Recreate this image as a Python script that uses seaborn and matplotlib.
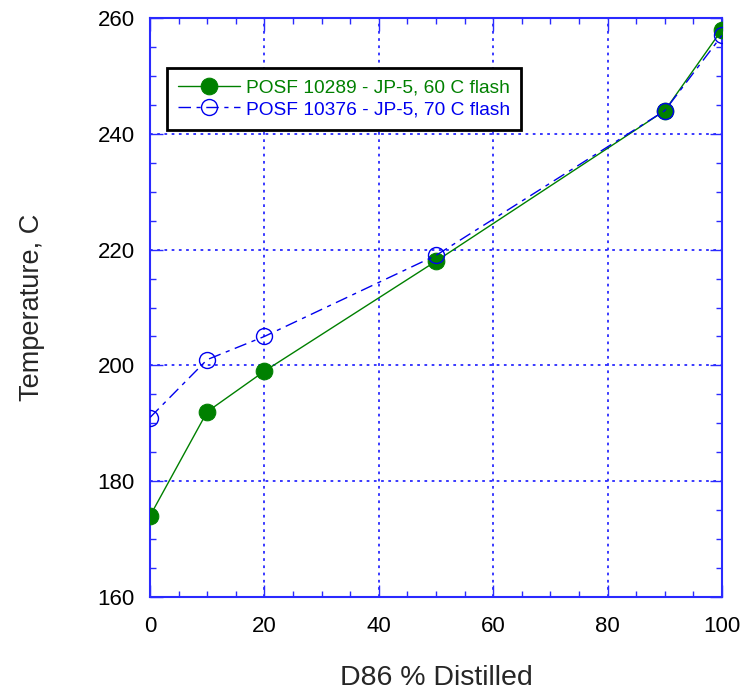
import matplotlib
matplotlib.use("Agg")
import matplotlib.pyplot as plt
import seaborn as sns
import pandas as pd
from matplotlib.ticker import MultipleLocator

sns.set_style("white")
plt.rcParams['font.family'] = ['Liberation Sans', 'DejaVu Sans']

distilled = [0, 10, 20, 50, 90, 100]
temp_10289 = [174, 192, 199, 218, 244, 258]
temp_10376 = [191, 201, 205, 219, 244, 257]
label_10289 = "POSF 10289 - JP-5, 60 C flash"
label_10376 = "POSF 10376 - JP-5, 70 C flash"

df1 = pd.DataFrame({"x": distilled, "y": temp_10289})
df2 = pd.DataFrame({"x": distilled, "y": temp_10376})

fig = plt.figure(figsize=(7.41, 6.96), dpi=100)
ax = fig.add_axes([150/741, 99/696, 572/741, 579/696])

green = "#008000"
blue = "#0000ee"
sns.lineplot(data=df1, x="x", y="y", ax=ax, color=green, linewidth=1.0,
             marker="o", markersize=12, markerfacecolor=green,
             markeredgecolor=green, label=label_10289, sort=False, zorder=3)
sns.lineplot(data=df2, x="x", y="y", ax=ax, color=blue, linewidth=1.0,
             dashes=False, linestyle=(0, (9, 4, 3, 4)),
             marker="o", markersize=11.5, markerfacecolor="none",
             markeredgecolor=blue, markeredgewidth=1.0,
             label=label_10376, sort=False, zorder=4)

ax.set_xlim(0, 100)
ax.set_ylim(160, 260)
ax.xaxis.set_major_locator(MultipleLocator(20))
ax.xaxis.set_minor_locator(MultipleLocator(5))
ax.yaxis.set_major_locator(MultipleLocator(20))
ax.yaxis.set_minor_locator(MultipleLocator(5))

gridc = "#2a2aff"
ax.grid(True, which="major", color=gridc, linestyle=(0, (1.5, 2.5)), linewidth=1.3)
for s in ax.spines.values():
    s.set_color(gridc)
    s.set_linewidth(1.5)
ax.tick_params(which="both", direction="in", top=True, right=True,
               bottom=True, left=True, color=gridc, labelsize=16,
               labelcolor="black")
ax.tick_params(axis="x", which="both", pad=14)
ax.tick_params(axis="y", which="both", pad=11)
ax.tick_params(which="major", length=9, width=1.0)
ax.tick_params(which="minor", length=4.5, width=1.0)

ax.set_xlabel("D86 % Distilled", fontsize=20.5, labelpad=20)
ax.set_ylabel("Temperature, C", fontsize=19.5, labelpad=38)

leg = ax.legend(loc="upper left", bbox_to_anchor=(0.0297, 0.9136), frameon=True,
                fancybox=False, edgecolor="black", framealpha=1.0,
                fontsize=13.8, borderpad=0.6, borderaxespad=0.0,
                handlelength=3.2, handletextpad=0.3, labelspacing=0.2)
leg.get_frame().set_linewidth(2.0)
leg.get_frame().set_edgecolor("black")
for t, c in zip(leg.get_texts(), [green, blue]):
    t.set_color(c)

fig.savefig("out.png", dpi=100)
